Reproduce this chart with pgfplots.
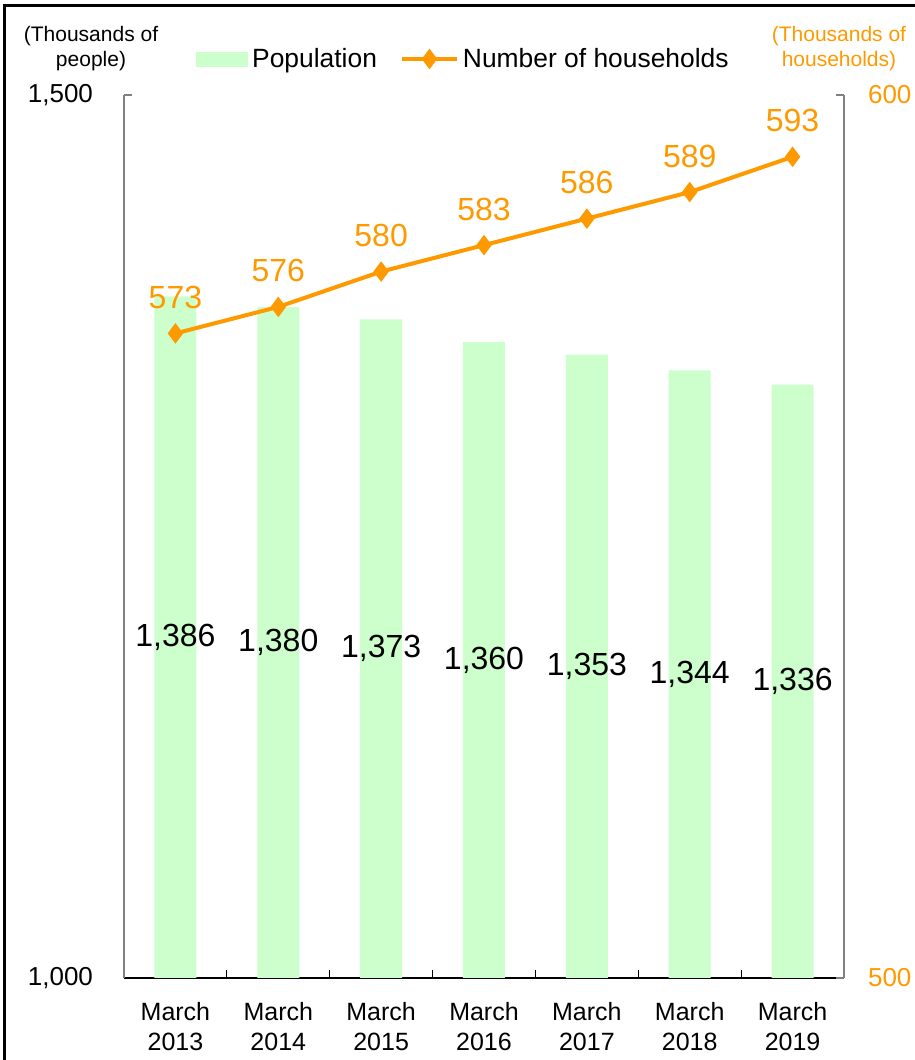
\documentclass[border=0pt]{standalone}
\usepackage{pgfplots}
\pgfplotsset{compat=1.18}
\usepackage{pgfplotstable}
\usepackage{fontspec}
\setmainfont{Liberation Sans}
\definecolor{popgreen}{HTML}{CCFFCC}
\definecolor{hhorange}{HTML}{FF9900}
\definecolor{axisgray}{HTML}{808080}

\pgfplotstableread{
x pop hh
0 1386 573
1 1380 576
2 1373 580
3 1360 583
4 1353 586
5 1344 589
6 1336 593
}\datatable

\begin{document}
\begin{tikzpicture}
\path[use as bounding box] (-62pt,-41pt) rectangle (395.5pt,489pt);
\draw[line width=1.5pt] (-59.5pt,-45pt) -- (-59.5pt,486pt) -- (400pt,486pt);
\begin{axis}[
  at={(0pt,0pt)}, anchor=south west,
  scale only axis, width=360pt, height=441.5pt,
  xmin=-0.5, xmax=6.5, ymin=1000, ymax=1500,
  axis y line*=left, axis x line*=bottom,
  x axis line style={-,black,line width=0.6pt},
  y axis line style={-,axisgray,line width=0.6pt},
  xtick={0,...,6},
  xticklabels={{March\\2013},{March\\2014},{March\\2015},{March\\2016},{March\\2017},{March\\2018},{March\\2019}},
  xticklabel style={align=center, font=\fontsize{12.5}{15}\selectfont, yshift=-8.5pt},
  major x tick style={draw=none},
  minor xtick={0.5,1.5,...,5.5},
  minor x tick style={black, line width=0.5pt},
  minor tick length=4pt, major tick length=4pt,
  tick align=inside,
  ytick={1000,1500},
  y tick style={axisgray, line width=0.6pt},
  scaled y ticks=false,
  yticklabel style={font=\fontsize{13}{15}\selectfont, xshift=-12pt},
  /pgf/number format/.cd, 1000 sep={,}, assume math mode=true, /pgfplots/.cd,
  clip=false,
]
\addplot[ybar, bar width=21pt, fill=popgreen, draw=none,
  visualization depends on={\thisrow{pop} \as \popv},
  nodes near coords,
  every node near coord/.append style={anchor=center, black,
     font=\fontsize{16}{18}\selectfont, yshift={-(\popv-1000)*0.4415pt}}]
  table[x=x, y=pop]{\datatable};
\node[align=center, font=\fontsize{10.5}{12.5}\selectfont] at (rel axis cs:-0.0458,1.0523) {(Thousands of\\people)};
\node[align=center, text=hhorange, font=\fontsize{10.5}{12.5}\selectfont] at (rel axis cs:0.9930,1.0523) {(Thousands of\\households)};
\end{axis}
\begin{axis}[
  at={(0pt,0pt)}, anchor=south west,
  scale only axis, width=360pt, height=441.5pt,
  xmin=-0.5, xmax=6.5, ymin=500, ymax=600,
  axis y line*=right, hide x axis,
  y axis line style={-,axisgray,line width=0.6pt},
  ytick={500,600},
  y tick style={axisgray, line width=0.6pt},
  major tick length=4pt, tick align=inside,
  yticklabel style={font=\fontsize{13}{15}\selectfont, text=hhorange, xshift=8.5pt},
  /pgf/number format/.cd, 1000 sep={,}, assume math mode=true, /pgfplots/.cd,
  clip=false,
  legend style={at={(axis description cs:0.1,1.0408)}, anchor=west, draw=none, fill=none,
     inner sep=0pt, font=\fontsize{13.2}{15}\selectfont, legend columns=2,
     /tikz/every even column/.append style={column sep=9.5pt}},
]
\addlegendimage{legend image code/.code={\fill[popgreen] (0pt,-3.5pt) rectangle (25.5pt,3.5pt);}}
\addlegendentry{Population}
\addplot[hhorange, line width=2pt, mark=diamond*, mark size=3.5pt,
  mark options={solid, fill=hhorange},
  legend image code/.code={\draw[mark repeat=2, mark phase=2] plot coordinates {(0pt,0pt) (13.75pt,0pt) (27.5pt,0pt)};},
  nodes near coords,
  every node near coord/.append style={anchor=center, text=hhorange,
     font=\fontsize{16}{18}\selectfont, yshift=18pt}]
  table[x=x, y=hh]{\datatable};
\addlegendentry{Number of households}
\end{axis}
\end{tikzpicture}
\end{document}
